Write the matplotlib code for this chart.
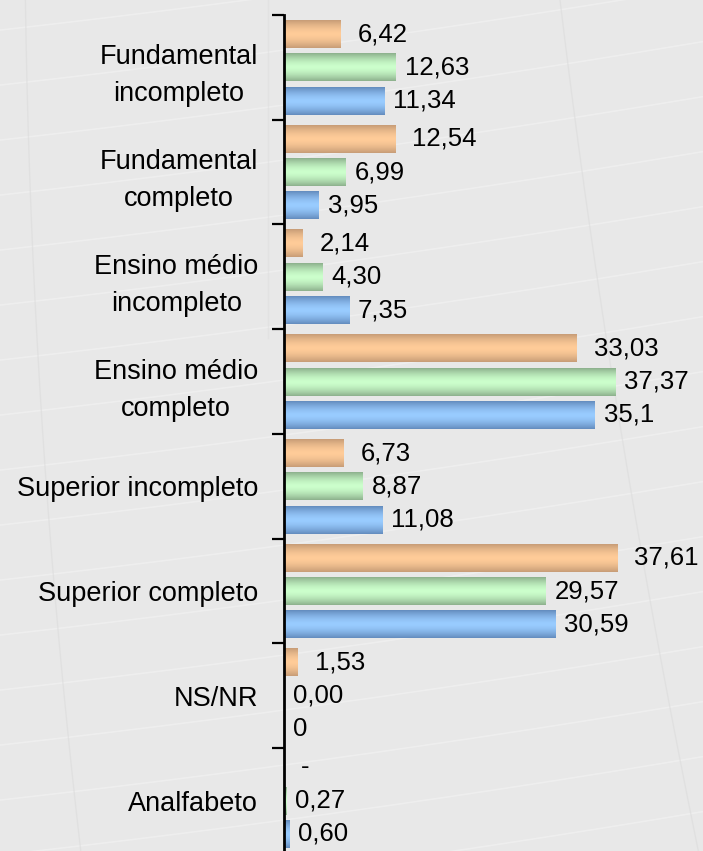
import numpy as np
import matplotlib
matplotlib.use("Agg")
import matplotlib.pyplot as plt
from matplotlib.colors import to_rgb

# ---------------- data ----------------
categories = ["Fundamental\nincompleto", "Fundamental\ncompleto",
              "Ensino médio\nincompleto", "Ensino médio\ncompleto",
              "Superior incompleto", "Superior completo", "NS/NR", "Analfabeto"]
series_orange = [6.42, 12.54, 2.14, 33.03, 6.73, 37.61, 1.53, 0.0]
series_green = [12.63, 6.99, 4.30, 37.37, 8.87, 29.57, 0.00, 0.27]
series_blue = [11.34, 3.95, 7.35, 35.1, 11.08, 30.59, 0.0, 0.60]
labels_orange = ["6,42", "12,54", "2,14", "33,03", "6,73", "37,61", "1,53", "-"]
labels_green = ["12,63", "6,99", "4,30", "37,37", "8,87", "29,57", "0,00", "0,27"]
labels_blue = ["11,34", "3,95", "7,35", "35,1", "11,08", "30,59", "0", "0,60"]

# ---------------- style ----------------
plt.rcParams['font.family'] = ['Liberation Sans', 'DejaVu Sans']
W, H = 703, 851
fig = plt.figure(figsize=(W / 100, H / 100), dpi=100)
bg = '#E8E8E8'
fig.patch.set_facecolor(bg)

# decorative background texture (faint curves)
deco = fig.add_axes([0, 0, 1, 1], zorder=-5)
deco.set_xlim(0, W); deco.set_ylim(H, 0); deco.axis('off')
xs = np.linspace(0, W, 200)
for y0 in np.arange(-60, 900, 55):
    ys = y0 + 40 - 0.14 * xs - 0.00004 * (xs - 350) ** 2
    deco.plot(xs, ys, color='white', alpha=0.3, lw=1.1)
yv = np.linspace(0, H, 200)
deco.plot(560 + 0.12 * yv + 0.00005 * yv ** 2, yv, color='#DCDCDC', alpha=0.6, lw=1.0)
deco.plot(20 + 0.05 * yv + 0.00006 * (yv - 300) ** 2, yv, color='#DCDCDC', alpha=0.6, lw=1.0)
deco.plot(268 + 0 * yv[:80], yv[:80], color='#DFDFDF', alpha=0.6, lw=1.0)

ax_left = 284 / W
ax_top = 1 - 15 / H
ax_bottom = 1 - 853 / H
ax = fig.add_axes([ax_left, ax_bottom, 1 - ax_left, ax_top - ax_bottom])
ax.set_facecolor('none')

n = len(categories)
y = np.arange(n)
pitch = 0.318
bh = 0.266

specs = [
    (series_orange, labels_orange, -pitch, ('#C79D77', '#FFCC99'), 17),
    (series_green, labels_green, 0.0, ('#8DB18D', '#CCFFCC'), 9),
    (series_blue, labels_blue, pitch, ('#648CBE', '#99CCFF'), 9),
]

t = np.linspace(0, 1, 64)
prof = 1 - np.abs(2 * t - 1) ** 1.6

for vals, labs, off, (edge_c, mid_c), dx in specs:
    bars = ax.barh(y + off, vals, height=bh, color='none', edgecolor='none')
    e = np.array(to_rgb(edge_c)); m = np.array(to_rgb(mid_c))
    grad = e[None, :] * (1 - prof[:, None]) + m[None, :] * prof[:, None]
    img = grad[:, None, :]
    for b, lab, v in zip(bars, labs, vals):
        x0, y0 = b.get_x(), b.get_y()
        w, h = b.get_width(), b.get_height()
        if w > 0:
            ax.imshow(img, extent=(x0, x0 + w, y0 + h, y0), aspect='auto',
                      interpolation='bilinear', zorder=2)
        ax.annotate(lab, xy=(v, y0 + h / 2), xytext=(dx, 0), textcoords='offset pixels',
                    ha='left', va='center', fontsize=18.5, color='black', zorder=3)

ax.set_xlim(0, 419 / 8.86)
ax.set_ylim(n - 0.5, -0.5)

ax.set_yticks(np.arange(n + 1) - 0.5)
ax.set_yticklabels([])
ax.set_yticks(y, minor=True)
ax.set_yticklabels(categories, minor=True, fontsize=19.5, ha='right',
                   multialignment='center', linespacing=1.55)
ax.tick_params(axis='y', which='major', direction='out', length=9, width=1.6, color='black')
ax.tick_params(axis='y', which='minor', length=0, pad=18.5)
ax.set_xticks([])
for s in ['top', 'right', 'bottom']:
    ax.spines[s].set_visible(False)
ax.spines['left'].set_linewidth(2)
ax.spines['left'].set_color('black')

fig.savefig('out.png', dpi=100, facecolor=bg)
